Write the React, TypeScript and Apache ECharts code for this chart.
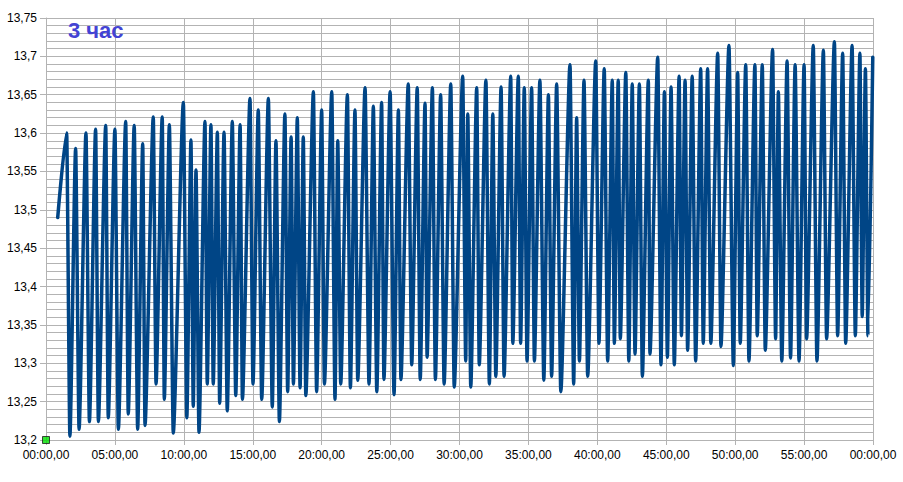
import React, { useEffect, useRef } from "react";
import * as echarts from "echarts";

// time of each turning point, seconds from start
const times: number[] = [51,90,104,129,144,174,189,216,228,260,271,300,315,347,358,384,399,421,431,467,479,506,515,537,554,598,613,631,641,653,666,692,702,718,728,746,756,775,789,811,826,845,855,888,901,924,939,968,985,1001,1016,1040,1052,1067,1077,1094,1106,1120,1131,1164,1178,1200,1212,1244,1258,1270,1283,1312,1325,1345,1357,1389,1406,1425,1440,1461,1471,1498,1515,1534,1545,1577,1592,1616,1629,1650,1659,1682,1695,1718,1733,1762,1777,1814,1827,1836,1849,1875,1886,1915,1930,1945,1958,1981,1994,2023,2032,2056,2066,2082,2094,2114,2126,2150,2167,2187,2201,2223,2241,2281,2297,2310,2322,2342,2358,2393,2407,2430,2445,2465,2474,2491,2500,2524,2537,2552,2564,2583,2596,2622,2629,2663,2677,2692,2705,2721,2735,2756,2766,2782,2793,2813,2828,2850,2861,2880,2894,2924,2938,2973,2992,3011,3022,3046,3060,3086,3096,3118,3131,3163,3176,3188,3203,3226,3241,3261,3278,3300,3311,3340,3356,3384,3398,3432,3446,3468,3481,3509,3523,3543,3553,3567,3578,3599];

// voltage at each turning point
const volts: number[] = [13.49,13.60,13.205,13.58,13.214,13.60,13.224,13.605,13.224,13.61,13.229,13.605,13.214,13.615,13.234,13.61,13.214,13.586,13.219,13.621,13.273,13.621,13.253,13.611,13.209,13.64,13.229,13.591,13.244,13.552,13.21,13.615,13.273,13.611,13.273,13.601,13.248,13.601,13.238,13.615,13.258,13.611,13.253,13.645,13.273,13.63,13.253,13.645,13.243,13.59,13.224,13.625,13.263,13.595,13.273,13.62,13.268,13.595,13.258,13.654,13.263,13.63,13.273,13.654,13.253,13.59,13.273,13.65,13.268,13.63,13.278,13.659,13.273,13.635,13.263,13.64,13.279,13.654,13.259,13.63,13.279,13.664,13.298,13.659,13.279,13.639,13.308,13.659,13.279,13.65,13.273,13.664,13.269,13.674,13.303,13.625,13.269,13.659,13.298,13.669,13.273,13.625,13.283,13.66,13.283,13.674,13.326,13.674,13.326,13.659,13.303,13.659,13.303,13.669,13.278,13.65,13.283,13.664,13.263,13.689,13.273,13.62,13.303,13.669,13.283,13.694,13.326,13.684,13.303,13.669,13.326,13.669,13.332,13.679,13.303,13.664,13.312,13.664,13.283,13.669,13.312,13.699,13.298,13.654,13.308,13.66,13.298,13.674,13.336,13.669,13.317,13.674,13.303,13.684,13.326,13.684,13.326,13.704,13.322,13.714,13.297,13.679,13.326,13.689,13.303,13.689,13.336,13.689,13.317,13.709,13.332,13.654,13.303,13.694,13.307,13.689,13.303,13.689,13.332,13.714,13.303,13.708,13.332,13.719,13.336,13.704,13.326,13.714,13.336,13.704,13.361,13.684,13.336,13.699];

const title = "3 час";
const originMarker: [number, number][] = [[0, 13.2]];

const X_MIN = 0;
const X_MAX = 3600;
const X_STEP = 300;
const Y_MIN = 13.2;
const Y_MAX = 13.75;
const Y_STEP = 0.05;

const pad = (n: number) => (n < 10 ? "0" + n : "" + n);

export default function App() {
  const ref = useRef<HTMLDivElement>(null);
  useEffect(() => {
    if (!ref.current) return;
    const chart = echarts.init(ref.current, null, { renderer: "svg" });
    const gridColor = "#b3b3b3";
    const font = "'Liberation Sans', Arial, sans-serif";
    chart.setOption({
      animation: false,
      backgroundColor: "#ffffff",
      title: {
        text: title,
        left: 63,
        top: 14,
        textStyle: {
          color: "#4343d4",
          fontSize: 22,
          fontWeight: "bold",
          fontFamily: font,
        },
      },
      grid: { left: 46, right: 30, top: 18, bottom: 42 },
      xAxis: {
        type: "value",
        min: X_MIN,
        max: X_MAX,
        interval: X_STEP,
        axisLine: { show: true, lineStyle: { color: gridColor, width: 1 } },
        axisTick: { show: true, length: 5, lineStyle: { color: gridColor } },
        splitLine: { show: true, lineStyle: { color: gridColor, width: 1 } },
        axisLabel: {
          margin: 9,
          color: "#000",
          fontSize: 12,
          fontFamily: font,
          formatter: (v: number) => {
            const s = Math.round(v);
            const m = Math.floor(s / 60) % 60;
            const sec = s % 60;
            return pad(m) + ":" + pad(sec) + ",00";
          },
        },
      },
      yAxis: {
        type: "value",
        min: Y_MIN,
        max: Y_MAX,
        interval: Y_STEP,
        axisLine: { show: true, lineStyle: { color: gridColor, width: 1 } },
        axisTick: { show: true, length: 6, lineStyle: { color: gridColor } },
        splitLine: { show: true, lineStyle: { color: gridColor, width: 1 } },
        minorTick: { show: false, splitNumber: 5 },
        minorSplitLine: { show: true, lineStyle: { color: gridColor, width: 1 } },
        axisLabel: {
          margin: 9,
          color: "#000",
          fontSize: 12,
          fontFamily: font,
          formatter: (v: number) => String(Number(v.toFixed(2))).replace(".", ","),
        },
      },
      series: [
        {
          type: "line",
          data: times.map((t, i) => [t, volts[i]]),
          showSymbol: false,
          smooth: 0.2,
          smoothMonotone: "x",
          lineStyle: { color: "#004586", width: 3.5, join: "round", cap: "round" },
          z: 3,
        },
        {
          type: "scatter",
          data: originMarker,
          symbol: "rect",
          symbolSize: 7,
          clip: false,
          itemStyle: { color: "#00e000", borderColor: "#1a1a1a", borderWidth: 1 },
          z: 4,
        },
      ],
    });
    return () => chart.dispose();
  }, []);
  return (
    <div
      ref={ref}
      style={{ position: "absolute", left: 0, top: 0, width: 903, height: 482 }}
    />
  );
}
